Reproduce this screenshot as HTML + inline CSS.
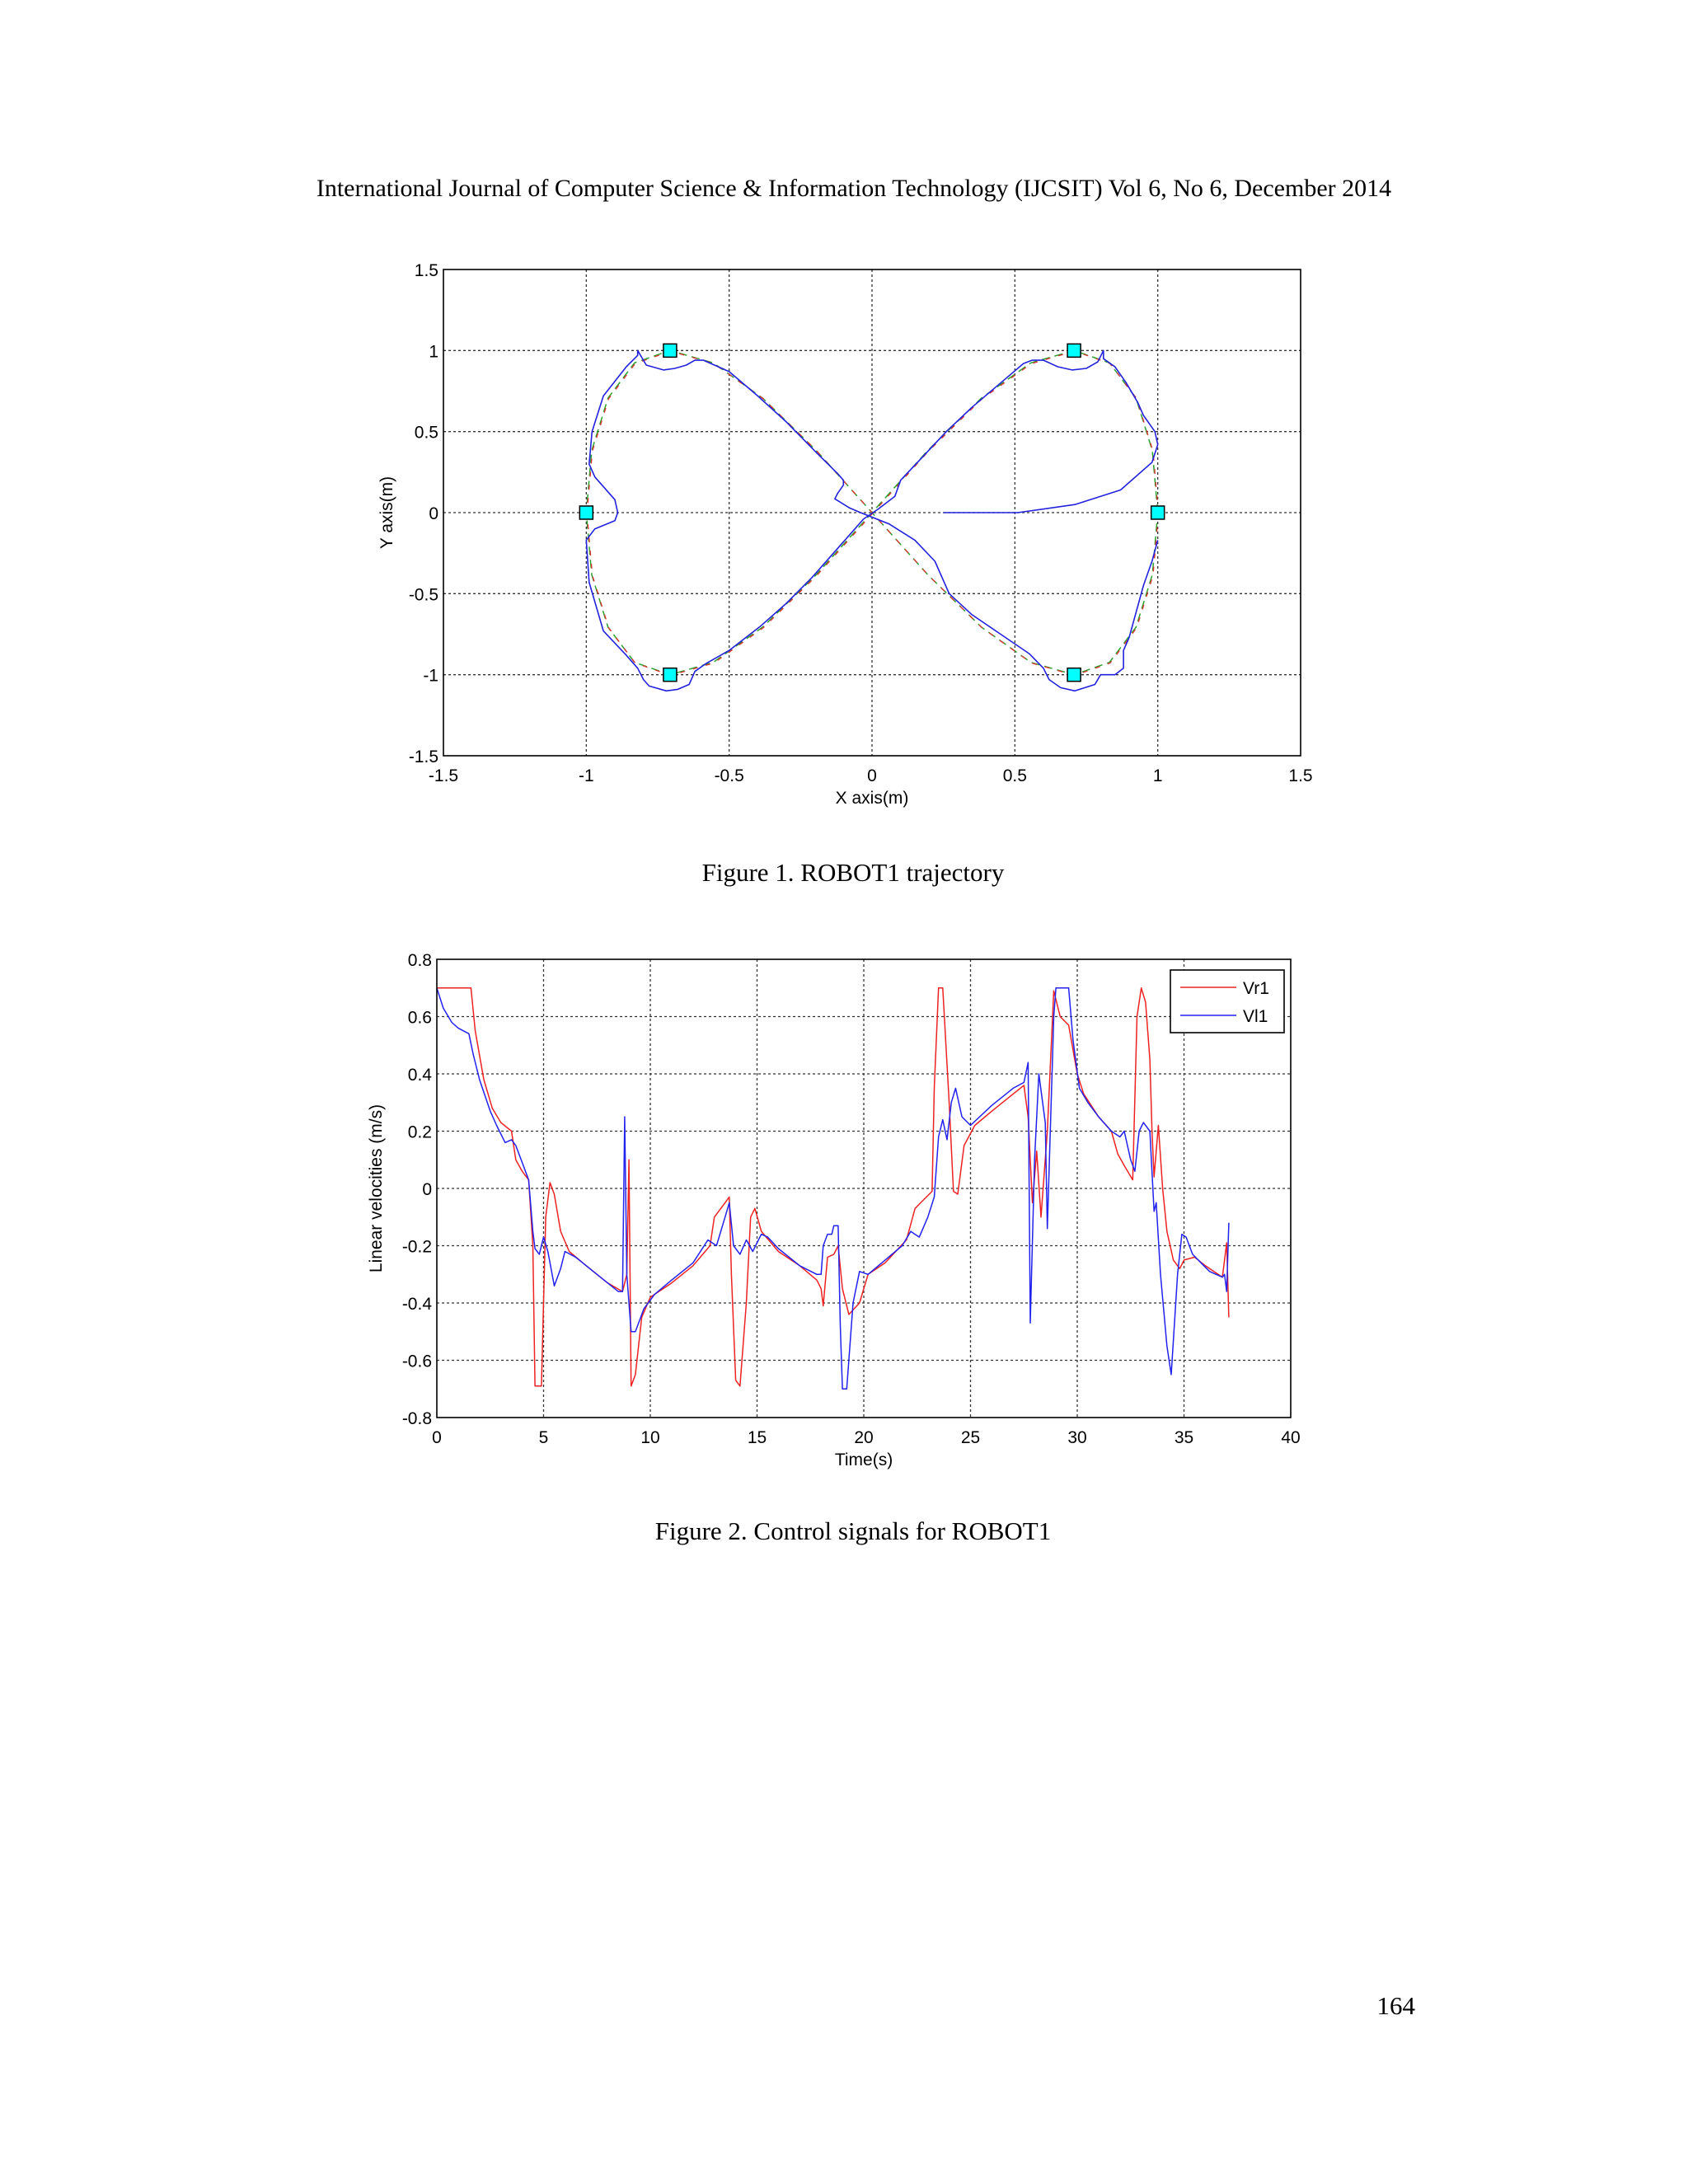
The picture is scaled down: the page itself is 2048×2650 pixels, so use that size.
<!DOCTYPE html>
<html><head><meta charset="utf-8"><style>
html,body{margin:0;padding:0;background:#fff}
svg{display:block}
.tk{font-family:"Liberation Sans",sans-serif;font-size:21px;fill:#000}
.cap{font-family:"Liberation Serif",serif;font-size:31px;fill:#000}
.hdr{font-family:"Liberation Serif",serif;font-size:30px;fill:#000}
</style></head><body>
<svg id="page" width="2048" height="2650" viewBox="0 0 2048 2650" xmlns="http://www.w3.org/2000/svg">
<rect width="2048" height="2650" fill="#fff"/>
<text class="hdr" x="1036" y="238" text-anchor="middle">International Journal of Computer Science &amp; Information Technology (IJCSIT) Vol 6, No 6, December 2014</text>
<g id="fig1"></g>
<text class="cap" x="1035" y="1069" text-anchor="middle">Figure 1. ROBOT1 trajectory</text>
<g id="fig2"></g>
<text class="cap" x="1035" y="1868" text-anchor="middle">Figure 2. Control signals for ROBOT1</text>
<text class="cap" x="1717" y="2444" text-anchor="end">164</text>
</svg>
<script>
// ---------- Figure 1 data ----------
const f1Ticks = [-1.5,-1,-0.5,0,0.5,1,1.5];
const f1TickLabels = ["-1.5","-1","-0.5","0","0.5","1","1.5"];
const refX = [1,0.981,0.924,0.831,0.707,0.556,0.383,0.195,0,-0.195,-0.383,-0.556,-0.707,-0.831,-0.924,-0.981,-1,-0.981,-0.924,-0.831,-0.707,-0.556,-0.383,-0.195,0,0.195,0.383,0.556,0.707,0.831,0.924,0.981,1];
const refY = [0,0.383,0.707,0.924,1,0.924,0.707,0.383,0,-0.383,-0.707,-0.924,-1,-0.924,-0.707,-0.383,0,0.383,0.707,0.924,1,0.924,0.707,0.383,0,-0.383,-0.707,-0.924,-1,-0.924,-0.707,-0.383,0];
const wpX = [0.707,1,0.707,-0.707,-1,-0.707];
const wpY = [1,0,-1,1,0,-1];
const robX = [0.25,0.51,0.71,0.87,0.98,1.0,0.99,0.95,0.93,0.89,0.85,0.81,0.81,0.79,0.75,0.7,0.65,0.6,0.56,0.53,0.45,0.35,0.26,0.17,0.1,0.08,0.02,-0.03,-0.12,-0.21,-0.3,-0.39,-0.5,-0.58,-0.62,-0.64,-0.68,-0.72,-0.78,-0.8,-0.82,-0.86,-0.94,-0.99,-1.0,-0.97,-0.9,-0.89,-0.9,-0.97,-0.99,-0.98,-0.94,-0.86,-0.82,-0.82,-0.79,-0.73,-0.69,-0.65,-0.62,-0.59,-0.5,-0.4,-0.3,-0.2,-0.12,-0.1,-0.1,-0.12,-0.13,-0.08,-0.04,0.06,0.15,0.22,0.27,0.35,0.45,0.55,0.6,0.62,0.66,0.71,0.78,0.8,0.85,0.88,0.88,0.9,0.95,0.98,1.0];
const robY = [0,0,0.05,0.14,0.31,0.42,0.5,0.6,0.68,0.8,0.9,0.95,1.0,0.93,0.89,0.88,0.9,0.94,0.94,0.92,0.8,0.65,0.5,0.33,0.2,0.1,0.02,-0.04,-0.22,-0.4,-0.56,-0.7,-0.85,-0.93,-0.98,-1.06,-1.09,-1.1,-1.07,-1.03,-0.96,-0.88,-0.73,-0.43,-0.17,-0.1,-0.05,0,0.08,0.22,0.3,0.5,0.72,0.9,0.97,1.0,0.91,0.88,0.89,0.91,0.94,0.94,0.87,0.72,0.56,0.38,0.24,0.2,0.17,0.12,0.085,0.03,0.0,-0.07,-0.17,-0.3,-0.5,-0.63,-0.75,-0.87,-0.96,-1.03,-1.08,-1.1,-1.06,-1.0,-1.0,-0.96,-0.85,-0.77,-0.45,-0.3,-0.17];

// ---------- Figure 2 data ----------
const f2XTicks = [0,5,10,15,20,25,30,35,40];
const f2YTicks = [-0.8,-0.6,-0.4,-0.2,0,0.2,0.4,0.6,0.8];
const f2YLabels = ["-0.8","-0.6","-0.4","-0.2","0","0.2","0.4","0.6","0.8"];
const vrT = [0,1.6,1.8,2.2,2.6,3.0,3.5,3.7,4.0,4.3,4.5,4.6,4.9,5.1,5.3,5.5,5.8,6.2,7,8,8.7,8.9,9.0,9.1,9.3,9.6,10,11,12,12.8,13,13.5,13.7,13.8,14.0,14.2,14.5,14.7,14.9,15.2,16,17,17.8,18.0,18.1,18.3,18.6,18.8,19.0,19.3,19.8,20.2,21,22,22.4,22.8,23.2,23.3,23.5,23.7,24.0,24.2,24.4,24.7,25.2,26,27,27.5,27.7,27.9,28.1,28.3,28.6,28.9,29.2,29.6,30,30.3,31,31.6,31.9,32.2,32.6,32.8,33.0,33.2,33.4,33.5,33.6,33.8,34.0,34.2,34.5,34.8,35.0,35.5,36,36.8,37.0,37.1];
const vrV = [0.7,0.7,0.55,0.38,0.28,0.23,0.2,0.1,0.06,0.03,-0.2,-0.69,-0.69,-0.1,0.02,-0.02,-0.15,-0.22,-0.27,-0.33,-0.36,-0.3,0.1,-0.69,-0.65,-0.45,-0.38,-0.33,-0.27,-0.2,-0.1,-0.05,-0.03,-0.3,-0.67,-0.69,-0.4,-0.1,-0.07,-0.15,-0.22,-0.27,-0.32,-0.35,-0.41,-0.24,-0.23,-0.2,-0.35,-0.44,-0.4,-0.3,-0.26,-0.18,-0.07,-0.04,-0.01,0.35,0.7,0.7,0.3,-0.01,-0.02,0.15,0.22,0.27,0.33,0.36,0.25,-0.05,0.13,-0.1,0.2,0.69,0.6,0.57,0.4,0.33,0.25,0.2,0.12,0.08,0.03,0.6,0.7,0.65,0.45,0.2,0.04,0.22,0,-0.15,-0.25,-0.28,-0.25,-0.24,-0.27,-0.31,-0.19,-0.45];
const vlT = [0,0.3,0.7,1.0,1.5,1.7,2.0,2.5,2.8,3.2,3.5,3.7,4.0,4.3,4.5,4.6,4.8,5.0,5.2,5.5,5.8,6.0,6.5,7.5,8.5,8.7,8.8,8.9,9.1,9.3,9.7,10.2,11,12,12.7,13.1,13.5,13.7,13.9,14.2,14.5,14.8,15.2,15.5,16,17,17.8,18.0,18.1,18.3,18.5,18.6,18.8,18.9,19.0,19.2,19.5,19.8,20.2,21,21.8,22.2,22.6,23.0,23.3,23.5,23.7,23.9,24.1,24.3,24.6,25.0,26,27,27.5,27.7,27.8,28.0,28.2,28.5,28.6,28.9,29.0,29.6,29.8,30.1,30.5,31,31.6,32.0,32.2,32.5,32.7,32.9,33.1,33.4,33.6,33.7,33.9,34.2,34.4,34.7,34.9,35.1,35.4,36.2,36.8,36.9,37.0,37.1];
const vlV = [0.7,0.63,0.58,0.56,0.54,0.47,0.38,0.27,0.22,0.16,0.17,0.15,0.09,0.03,-0.15,-0.21,-0.23,-0.17,-0.22,-0.34,-0.28,-0.22,-0.24,-0.3,-0.36,-0.36,0.25,-0.3,-0.5,-0.5,-0.42,-0.37,-0.32,-0.26,-0.18,-0.2,-0.1,-0.05,-0.2,-0.23,-0.18,-0.22,-0.16,-0.17,-0.21,-0.27,-0.3,-0.3,-0.2,-0.16,-0.16,-0.13,-0.13,-0.48,-0.7,-0.7,-0.4,-0.29,-0.3,-0.25,-0.2,-0.15,-0.17,-0.1,-0.03,0.18,0.24,0.17,0.3,0.35,0.25,0.22,0.29,0.35,0.37,0.44,-0.47,0.1,0.4,0.23,-0.14,0.6,0.7,0.7,0.52,0.35,0.3,0.25,0.2,0.18,0.2,0.1,0.06,0.2,0.23,0.2,-0.08,-0.05,-0.3,-0.55,-0.65,-0.3,-0.16,-0.17,-0.23,-0.29,-0.31,-0.3,-0.36,-0.12];

const NS="http://www.w3.org/2000/svg";
function mk(tag, attrs, parent, txt){const e=document.createElementNS(NS,tag);for(const k in attrs)e.setAttribute(k,attrs[k]);if(txt!==undefined)e.textContent=txt;parent.appendChild(e);return e;}

// ---------- Draw Figure 1 ----------
(function(){
const g=document.getElementById('fig1');
const L=538,R=1578,T=327,B=917;
const sx=v=>L+(v+1.5)/3*(R-L), sy=v=>B-(v+1.5)/3*(B-T);
f1Ticks.forEach((v,i)=>{
  if(i>0&&i<f1Ticks.length-1){
    const gx=mk('line',{x1:sx(v),x2:sx(v),y1:T,y2:B,stroke:'#333','stroke-width':1.3,'stroke-dasharray':'3,3'},g);
    
    
    const gy=mk('line',{x1:L,x2:R,y1:sy(v),y2:sy(v),stroke:'#333','stroke-width':1.3,'stroke-dasharray':'3,3'},g);
    
    
  }
  const xl=mk('text',{class:'tk',x:sx(v),y:B+31,'text-anchor':'middle'},g,f1TickLabels[i]);
  
  
  const yl=mk('text',{class:'tk',x:L-6,y:sy(v)+8,'text-anchor':'end'},g,f1TickLabels[i]);
  
  
});
const pts=(xs,ys,dx,dy)=>xs.map((x,i)=>(sx(x)+(dx||0)).toFixed(1)+','+(sy(ys[i])+(dy||0)).toFixed(1)).join(' ');
const gr=mk('polyline',{points:pts(refX,refY),fill:'none',stroke:'#2ca02c','stroke-width':1.5,'stroke-dasharray':'10,6'},g);


const rd=mk('polyline',{points:pts(refX,refY,0.8,0.8),fill:'none',stroke:'#e03030','stroke-width':1.3,'stroke-dasharray':'6,10'},g);


const bl=mk('polyline',{points:pts(robX,robY),fill:'none',stroke:'#2222dd','stroke-width':1.6,'stroke-linejoin':'round'},g);


wpX.forEach((x,i)=>{
  const r=mk('rect',{x:sx(x)-8,y:sy(wpY[i])-8,width:16,height:16,fill:'#00ffff',stroke:'#000','stroke-width':1.5},g);
  
  
});
const fr=mk('rect',{x:L,y:T,width:R-L,height:B-T,fill:'none',stroke:'#000','stroke-width':1.6},g);


const xt=mk('text',{class:'tk',x:(L+R)/2,y:975,'text-anchor':'middle'},g,'X axis(m)');


const yt=mk('text',{class:'tk',x:0,y:0,'text-anchor':'middle',transform:'translate(476,'+(T+B)/2+') rotate(-90)'},g,'Y axis(m)');


})();

// ---------- Draw Figure 2 ----------
(function(){
const g=document.getElementById('fig2');
const L=530,R=1566,T=1164,B=1720;
const sx=v=>L+v/40*(R-L), sy=v=>B-(v+0.8)/1.6*(B-T);
f2XTicks.forEach((v,i)=>{
  if(i>0&&i<f2XTicks.length-1){
    const gx=mk('line',{x1:sx(v),x2:sx(v),y1:T,y2:B,stroke:'#333','stroke-width':1.3,'stroke-dasharray':'3,3'},g);
    
    
  }
  const xl=mk('text',{class:'tk',x:sx(v),y:B+31,'text-anchor':'middle'},g,String(v));
  
  
});
f2YTicks.forEach((v,i)=>{
  if(i>0&&i<f2YTicks.length-1){
    const gy=mk('line',{x1:L,x2:R,y1:sy(v),y2:sy(v),stroke:'#333','stroke-width':1.3,'stroke-dasharray':'3,3'},g);
    
    
  }
  const yl=mk('text',{class:'tk',x:L-6,y:sy(v)+8,'text-anchor':'end'},g,f2YLabels[i]);
  
  
});
const pts=(ts,vs)=>ts.map((t,i)=>sx(t).toFixed(1)+','+sy(vs[i]).toFixed(1)).join(' ');
const r=mk('polyline',{points:pts(vrT,vrV),fill:'none',stroke:'#ee2222','stroke-width':1.5,'stroke-linejoin':'round'},g);


const b=mk('polyline',{points:pts(vlT,vlV),fill:'none',stroke:'#2222ee','stroke-width':1.5,'stroke-linejoin':'round'},g);


const fr=mk('rect',{x:L,y:T,width:R-L,height:B-T,fill:'none',stroke:'#000','stroke-width':1.6},g);


const lg=mk('g',{},g);


mk('rect',{x:1420,y:1177,width:138,height:76,fill:'#fff',stroke:'#000','stroke-width':1.6},lg);
mk('line',{x1:1432,x2:1500,y1:1198,y2:1198,stroke:'#ee2222','stroke-width':1.5},lg);
mk('line',{x1:1432,x2:1500,y1:1232,y2:1232,stroke:'#2222ee','stroke-width':1.5},lg);
const t1=mk('text',{class:'tk',x:1508,y:1206},lg,'Vr1');


const t2=mk('text',{class:'tk',x:1508,y:1240},lg,'Vl1');


const xt=mk('text',{class:'tk',x:(L+R)/2,y:1778,'text-anchor':'middle'},g,'Time(s)');


const yt=mk('text',{class:'tk',x:0,y:0,'text-anchor':'middle',transform:'translate(463,'+(T+B)/2+') rotate(-90)'},g,'Linear velocities (m/s)');


})();
</script>
</body></html>
